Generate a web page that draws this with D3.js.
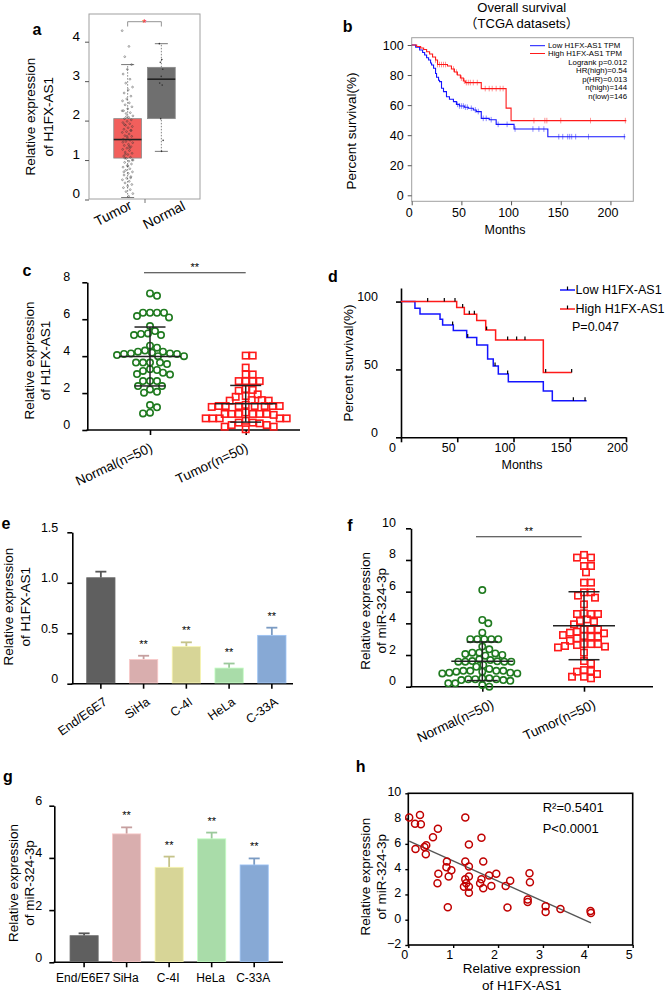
<!DOCTYPE html>
<html><head><meta charset="utf-8">
<script src="https://cdn.jsdelivr.net/npm/d3@7"></script>
<style>
body{margin:0;background:#fff;}
svg{display:block;font-family:"Liberation Sans",Arial,"Noto Sans CJK SC",sans-serif;}
</style></head><body>
<svg id="fig" width="666" height="993"></svg>
<script>
// ================= DATA =================
// Panel a (GEPIA boxplot)
const aGroups = ["Tumor", "Normal"];
const aTumorBox = [0.05, 1.05, 1.52, 2.05, 3.42];   // min, q1, median, q3, max
const aNormalBox = [1.22, 2.05, 3.05, 3.35, 3.95];
const aTumorPts = [4.28,3.88,3.62,3.42,3.3,3.18,3.05,2.95,2.85,2.78,2.7,2.62,2.55,2.5,2.45,2.4,2.35,2.3,2.25,2.2,2.18,2.12,2.08,2.05,2.02,1.98,1.95,1.92,1.88,1.85,1.82,1.78,1.75,1.72,1.7,1.66,1.62,1.6,1.56,1.53,1.5,1.47,1.44,1.4,1.37,1.34,1.3,1.27,1.24,1.2,1.17,1.14,1.1,1.07,1.04,1.0,0.97,0.94,0.9,0.86,0.82,0.78,0.74,0.7,0.66,0.62,0.58,0.54,0.5,0.46,0.42,0.38,0.34,0.3,0.25,0.2,0.15,0.08,1.9,1.75,1.6,1.45,1.3,1.15,1.0,0.85,0.7,0.55,2.1,2.25,1.35,1.05];
const aNormalPts = [3.95,3.55,3.48,3.3,3.12,2.95,2.9,2.05,1.5,1.22];
const aTicks = [0,1,2,3,4];

// Panel b (TCGA KM)
const bLowT = [0,4,8,11,13,15,17,19,20,22,24,25,27,28,30,32,35,38,42,45,48,53,57,62,65,70,78,85,103,137];
const bLowS = [100,98.5,96.7,95,93.3,91.5,90,88,86.7,84.5,81,78.5,76.5,75.6,71.2,69,65.6,63.9,62.3,60.5,59.4,58.6,57.9,56.8,55.7,51.2,50.3,47.2,44.1,39];
const bLowEnd = 215;
const bHighT = [0,5,9,12,15,18,21,24,26,36,40,43,46,49,52,54,70,95,100];
const bHighS = [100,99,98,97,95.5,94,92,90,87,86,84,82,80,78,76,75,71,58,49.7];
const bHighEnd = 216;
const bLowCens = [46,48,50,52,54,56,60,64,67,72,75,80,87,96,104,122,128,133,148,152,157,159,161,165,178,214];
const bHighCens = [24,26,28,30,32,34,42,45,50,53,55,57,59,62,66,74,78,81,85,89,92,123,134,136,150,180,215];
const bXTicks = [0,50,100,150,200];
const bYTicks = [0,20,40,60,80,100];
const bLegend = ["Low H1FX-AS1 TPM","High H1FX-AS1 TPM"];
const bStats = ["Logrank p=0.012","HR(high)=0.54","p(HR)=0.013","n(high)=144","n(low)=146"];

// Panel c
const cGroups = ["Normal(n=50)","Tumor(n=50)"];
const cNormal = [7.4,7.27,6.35,6.35,6.1,6.17,6.35,6.35,5.63,5.23,5.14,5.14,5.2,5.36,4.57,4.46,4.24,4.15,4.12,4.12,4.0,4.0,4.06,4.15,4.19,4.24,4.3,3.65,3.65,3.57,3.65,3.65,3.29,3.25,3.2,3.1,3.0,3.03,2.65,2.65,2.65,2.38,2.38,2.2,2.02,2.07,1.23,1.35,0.9,0.94];
const cTumor = [4.03,4.03,3.38,3.01,2.65,2.65,2.65,2.65,3.01,2.22,2.13,1.84,1.8,1.93,2.17,1.62,1.59,1.36,1.3,1.3,1.3,1.3,1.3,1.3,1.3,1.59,1.62,0.87,0.87,0.87,0.87,0.82,0.87,0.87,0.63,0.63,0.63,0.63,0.63,0.4,0.27,0.18,0.04,0.18,0.27,0.36,0.4,0.95,1.25,0.5];
const cTicks = [0,2,4,6,8];

// Panel d
const dLowT = [0,12.4,16.9,34.7,37,46.5,58.4,67.3,77,82,86.5,95.4,126.5,134.5];
const dLowS = [100,95.1,90.9,87,82.8,78.6,73.5,68,57.7,52.6,46.7,41,34.2,27];
const dLowEnd = 165;
const dHighT = [0,49.5,56.3,67.3,75.3,84.1,126.5];
const dHighS = [100,95.6,90.7,86,79,71.7,47.7];
const dHighEnd = 151.7;
const dLowCens = [45.9,59.3,83.6,94.8,153.2,163.6];
const dHighCens = [23.7,38.5,48,54.8,60.7,65.2,76.1,94.8,102.8,110.2,128.6,151.7];
const dXTicks = [0,50,100,150,200];
const dYTicks = [0,50,100];
const dLegend = ["Low H1FX-AS1","High H1FX-AS1"];

// Panel e & g
const cells = ["End/E6E7","SiHa","C-4I","HeLa","C-33A"];
const barColors = ["#5f5f5f","#d9aeae","#d7d597","#a9dca9","#87a9d5"];
const eMeans = [1.05,0.24,0.367,0.155,0.479];
const eErr = [0.06,0.037,0.043,0.045,0.076];
const eSig = ["","**","**","**","**"];
const eTicks = [0,0.5,1.0,1.5];
const eTickLabels = ["0","0.5","1.0","1.5"];
const gMeans = [1.02,4.92,3.64,4.73,3.73];
const gErr = [0.09,0.25,0.41,0.24,0.25];
const gSig = ["","**","**","**","**"];
const gTicks = [0,2,4,6];
const gTickLabels = ["0","2","4","6"];

// Panel f
const fNormal = [6.1,4.21,4.0,3.41,3.0,3.0,3.0,3.0,3.0,2.53,2.36,2.15,2.1,2.0,1.96,2.06,2.15,1.62,1.58,1.58,1.68,1.73,1.6,1.58,1.58,1.26,1.37,1.12,1.0,1.0,0.95,0.88,0.84,0.84,0.88,0.95,1.0,1.0,0.53,0.47,0.42,0.37,0.47,0.42,0.47,0.53,0.21,0.1,0.0,0.21];
const fTumor = [8.32,8.15,8.15,7.62,7.62,7.22,6.57,6.57,5.96,5.75,5.96,5.62,5.2,4.59,4.59,4.59,4.63,4.1,4.25,4.15,3.94,3.62,3.62,3.62,3.47,3.41,3.2,3.16,3.37,3.05,3.16,3.26,2.69,2.69,2.57,2.53,2.48,2.63,2.69,2.9,2.15,1.62,1.47,1.05,0.95,0.63,0.53,0.63,0.8,0.99];
const fTicks = [0,2,4,6,8,10];

// Panel h
const hX = [0.02,0.15,0.26,0.28,0.16,0.36,0.40,0.39,0.55,0.66,0.86,0.85,0.67,0.65,0.90,0.96,0.88,1.27,1.27,1.35,1.35,1.27,1.24,1.29,1.35,1.35,1.35,1.63,1.67,1.63,1.60,1.67,1.80,1.85,1.96,2.17,2.27,2.21,2.70,2.71,2.66,2.66,3.06,3.06,3.39,4.06,4.07];
const hY = [8.08,7.6,8.29,7.55,5.6,5.76,5.89,5.17,6.53,7.2,4.61,4.16,3.63,2.88,3.41,3.92,0.99,8.08,4.61,4.21,5.95,3.2,2.61,2.88,3.41,2.61,2.13,6.48,4.61,3.2,2.88,2.48,3.49,2.67,3.63,2.67,3.09,0.96,3.68,2.96,1.6,1.41,1.07,0.61,0.85,0.69,0.53];
const hXTicks = [0,1,2,3,4,5];
const hYTicks = [-2,0,2,4,6,8,10];
const hStats = ["R\u00b2=0.5401","P<0.0001"];

// ================= DRAWING =================
const svg = d3.select("#fig");
const BLUE = "#1414ff", RED = "#ff1a1a", GREEN = "#1f7a1f", DARKRED = "#c00000";
const intFmt = d3.format("d");

function panelLabel(t, x, y) {
  svg.append("text").attr("x", x).attr("y", y).attr("dy", "0.35em")
    .attr("text-anchor", "middle").attr("font-weight", "bold").attr("font-size", 16).text(t);
}
function vTitle(lines, xs, cy, size) {
  lines.forEach((l, i) => svg.append("text")
    .attr("transform", `translate(${xs[i]},${cy}) rotate(-90)`)
    .attr("dy", "0.35em").attr("text-anchor", "middle").attr("font-size", size).text(l));
}
function styleAxis(g, size, sw, color, textShift) {
  g.attr("font-size", size).attr("font-family", null);
  g.selectAll("line").attr("stroke", color).attr("stroke-width", sw);
  g.selectAll("path.domain").attr("stroke", color).attr("stroke-width", sw);
  g.selectAll("text").attr("fill", "#000");
  if (textShift) g.selectAll("text").attr("transform", textShift);
}
function kmPath(x, y, T, S, end) {
  const pts = T.map((t, i) => [t, S[i]]);
  pts.push([end, S[S.length - 1]]);
  return d3.line().x(d => x(d[0])).y(d => y(d[1])).curve(d3.curveStepAfter)(pts);
}
function survAt(T, S, t) {
  let s = S[0];
  for (let i = 0; i < T.length; i++) if (T[i] <= t) s = S[i];
  return s;
}
function swarm(values, y, cx, minDist) {
  const order = values.map((v, i) => i).sort((a, b) => values[b] - values[a]);
  const placed = [], xs = new Array(values.length);
  for (const i of order) {
    const py = y(values[i]);
    let k = 0, x;
    while (true) {
      const off = k === 0 ? 0 : (k % 2 ? 1 : -1) * Math.ceil(k / 2);
      x = cx + off;
      if (placed.every(p => (p[0] - x) ** 2 + (p[1] - py) ** 2 >= minDist * minDist)) break;
      k++;
    }
    placed.push([x, py]); xs[i] = x;
  }
  return xs;
}

// ---------- Panel a ----------
(function () {
  const x = d3.scaleBand().domain(aGroups).range([89, 200]).paddingInner(0.176).paddingOuter(0.735);
  const y = d3.scaleLinear().domain([0, 4]).range([199.5, 41.7]);
  svg.append("rect").attr("x", 89).attr("y", 14).attr("width", 111).attr("height", 185)
    .attr("fill", "none").attr("stroke", "#a0a0a0").attr("stroke-width", 1);
  const ga = svg.append("g").attr("transform", "translate(89,0)")
    .call(d3.axisLeft(y).tickValues(aTicks).tickFormat(intFmt).tickSize(4).tickSizeOuter(0).tickPadding(5));
  ga.select(".domain").remove();
  styleAxis(ga, 13.5, 1, "#555", "translate(0,-6)");
  svg.append("line").attr("x1", 145).attr("x2", 145).attr("y1", 199).attr("y2", 203).attr("stroke", "#777");
  const boxes = [aTumorBox, aNormalBox], fills = ["#f25f5c", "#6f6f6f"];
  aGroups.forEach((gname, gi) => {
    const b = boxes[gi], cx = x(gname) + x.bandwidth() / 2, w = x.bandwidth();
    [[b[0], b[1]], [b[3], b[4]]].forEach(seg => {
      svg.append("line").attr("x1", cx).attr("x2", cx).attr("y1", y(seg[0])).attr("y2", y(seg[1]))
        .attr("stroke", "#666").attr("stroke-width", 0.8).attr("stroke-dasharray", "1.5,1.5");
    });
    [b[0], b[4]].forEach(v => svg.append("line").attr("x1", cx - 6.5).attr("x2", cx + 6.5)
      .attr("y1", y(v)).attr("y2", y(v)).attr("stroke", "#555").attr("stroke-width", 0.8));
    svg.append("rect").attr("x", cx - w / 2).attr("y", y(b[3])).attr("width", w)
      .attr("height", y(b[1]) - y(b[3])).attr("fill", fills[gi]).attr("stroke", "#8a8a8a").attr("stroke-width", 0.8);
    svg.append("line").attr("x1", cx - w / 2).attr("x2", cx + w / 2).attr("y1", y(b[2])).attr("y2", y(b[2]))
      .attr("stroke", "#222").attr("stroke-width", 1.6);
  });
  const tcx = x("Tumor") + x.bandwidth() / 2, ncx = x("Normal") + x.bandwidth() / 2;
  aTumorPts.forEach((v, i) => {
    const j = ((i * 0.61803398875) % 1 - 0.5) * 11;
    svg.append("circle").attr("cx", tcx + j).attr("cy", y(v)).attr("r", 0.9)
      .attr("fill", "none").attr("stroke", "#333").attr("stroke-width", 0.5).attr("opacity", 0.85);
  });
  aNormalPts.forEach((v, i) => {
    const j = ((i * 0.61803398875) % 1 - 0.5) * 4;
    svg.append("circle").attr("cx", ncx + j).attr("cy", y(v)).attr("r", 0.8).attr("fill", "#333");
  });
  svg.append("path").attr("d", `M${tcx},26.5V21.7H${ncx}V26.5`).attr("fill", "none")
    .attr("stroke", "#888").attr("stroke-width", 0.9);
  svg.append("text").attr("x", (tcx + ncx) / 2).attr("y", 27).attr("text-anchor", "middle")
    .attr("font-size", 11).attr("fill", "#ff3030").text("*");
  const lx = d3.scalePoint().domain(aGroups).range([113, 164]);
  aGroups.forEach((gname, gi) => svg.append("text")
    .attr("transform", `translate(${lx(gname)},${213 + gi * 2}) rotate(-27)`)
    .attr("dy", "0.35em").attr("text-anchor", "middle").attr("font-size", 14).text(gname));
  vTitle(["Relative expression", "of H1FX-AS1"], [30.7, 48.3], 116.7, 13.5);
  panelLabel("a", 37, 29);
})();

// ---------- Panel b ----------
(function () {
  const x = d3.scaleLinear().domain([0, 223]).range([411.7, 633.3]);
  const y = d3.scaleLinear().domain([0, 100]).range([195.3, 45]);
  svg.append("rect").attr("x", 411.7).attr("y", 37.7).attr("width", 221.6).attr("height", 163.6)
    .attr("fill", "none").attr("stroke", "#a0a0a0").attr("stroke-width", 1);
  const gy = svg.append("g").attr("transform", "translate(411.7,0)")
    .call(d3.axisLeft(y).tickValues(bYTicks).tickFormat(intFmt).tickSize(4).tickSizeOuter(0).tickPadding(4));
  gy.select(".domain").remove();
  styleAxis(gy, 12.5, 1, "#555");
  const gx = svg.append("g").attr("transform", "translate(0,201.3)")
    .call(d3.axisBottom(x).tickValues(bXTicks).tickFormat(intFmt).tickSize(4).tickSizeOuter(0).tickPadding(3));
  gx.select(".domain").remove();
  styleAxis(gx, 12.5, 1, "#555", "translate(-3,0)");
  [[bLowT, bLowS, bLowEnd, bLowCens, BLUE], [bHighT, bHighS, bHighEnd, bHighCens, RED]].forEach(([T, S, E, C, col]) => {
    svg.append("path").attr("d", kmPath(x, y, T, S, E)).attr("fill", "none").attr("stroke", col).attr("stroke-width", 1.1);
    C.forEach(t => {
      const yy = y(survAt(T, S, t));
      svg.append("line").attr("x1", x(t)).attr("x2", x(t)).attr("y1", yy - 2.8).attr("y2", yy + 2.8)
        .attr("stroke", col).attr("stroke-width", 0.8).attr("opacity", 0.6);
    });
  });
  [BLUE, RED].forEach((col, i) => {
    const yy = 45.7 + i * 7.8;
    svg.append("line").attr("x1", 530).attr("x2", 545).attr("y1", yy).attr("y2", yy).attr("stroke", col).attr("stroke-width", 1);
    svg.append("text").attr("x", 548).attr("y", yy).attr("dy", "0.33em").attr("font-size", 7.8).text(bLegend[i]);
  });
  bStats.forEach((s, i) => svg.append("text").attr("x", 627).attr("y", 62 + i * 8.6).attr("dy", "0.33em")
    .attr("text-anchor", "end").attr("font-size", 7.8).text(s));
  svg.append("text").attr("x", 521.7).attr("y", 7).attr("dy", "0.35em").attr("text-anchor", "middle").attr("font-size", 13).text("Overall survival");
  svg.append("text").attr("x", 521.7).attr("y", 23.5).attr("dy", "0.35em").attr("text-anchor", "middle").attr("font-size", 13).text("\uff08TCGA datasets\uff09");
  svg.append("text").attr("x", 505).attr("y", 230).attr("dy", "0.35em").attr("text-anchor", "middle").attr("font-size", 12.5).text("Months");
  vTitle(["Percent survival(%)"], [351.7], 131, 13.5);
  panelLabel("b", 347.7, 26);
})();

// ---------- dot plot helper (c, f) ----------
function dotPlot(opt) {
  const y = d3.scaleLinear().domain(opt.ydom).range(opt.yrange);
  const x = d3.scalePoint().domain(opt.groups).range(opt.xcenters);
  const gy = svg.append("g").attr("transform", `translate(${opt.axisX},0)`)
    .call(d3.axisLeft(y).tickValues(opt.ticks).tickFormat(intFmt).tickSize(5).tickSizeOuter(0).tickPadding(opt.pad));
  styleAxis(gy, opt.fs, 1.6, "#000", `translate(0,${opt.labDy})`);
  svg.append("line").attr("x1", opt.axisX - 0.8).attr("x2", opt.xEnd).attr("y1", opt.yrange[0]).attr("y2", opt.yrange[0])
    .attr("stroke", "#000").attr("stroke-width", 1.6);
  const gx = svg.append("g").attr("transform", `translate(0,${opt.yrange[0]})`)
    .call(d3.axisBottom(x).tickSize(5).tickSizeOuter(0));
  gx.select(".domain").remove();
  styleAxis(gx, opt.fs + 1, 1.6, "#000");
  gx.selectAll("text").attr("y", 0).attr("dy", 0).attr("text-anchor", "end")
    .attr("transform", `translate(${opt.lblDx},${opt.lblDy}) rotate(${opt.rot})`);
  const sets = [opt.a, opt.b];
  sets.forEach((vals, gi) => {
    const cx = x(opt.groups[gi]);
    const xs = swarm(vals, y, cx, opt.minDist);
    vals.forEach((v, i) => {
      if (gi === 0) svg.append("circle").attr("cx", xs[i]).attr("cy", y(v)).attr("r", 3.2)
        .attr("fill", "none").attr("stroke", GREEN).attr("stroke-width", 1.6);
      else svg.append("rect").attr("x", xs[i] - 3.2).attr("y", y(v) - 3.2).attr("width", 6.4).attr("height", 6.4)
        .attr("fill", "none").attr("stroke", RED).attr("stroke-width", 1.6);
    });
    const m = d3.mean(vals), sd = d3.deviation(vals);
    const g = svg.append("g").attr("stroke", "#222").attr("stroke-width", 1.5);
    g.append("line").attr("x1", cx - 31).attr("x2", cx + 31).attr("y1", y(m)).attr("y2", y(m));
    g.append("line").attr("x1", cx).attr("x2", cx).attr("y1", y(m - sd)).attr("y2", y(m + sd));
    [m - sd, m + sd].forEach(v => g.append("line").attr("x1", cx - 15.5).attr("x2", cx + 15.5).attr("y1", y(v)).attr("y2", y(v)));
  });
  svg.append("line").attr("x1", opt.sig[0]).attr("x2", opt.sig[1]).attr("y1", opt.sig[2]).attr("y2", opt.sig[2])
    .attr("stroke", "#333").attr("stroke-width", 1.1);
  svg.append("text").attr("x", (opt.sig[0] + opt.sig[1]) / 2).attr("y", opt.sig[2] - 1.5)
    .attr("text-anchor", "middle").attr("font-size", 11).text("**");
}

// ---------- Panel c ----------
dotPlot({
  groups: cGroups, a: cNormal, b: cTumor, ydom: [0, 8], yrange: [430, 282.3], xcenters: [150, 245.7],
  axisX: 87.3, xEnd: 300, ticks: cTicks, pad: 12, labDy: -6, fs: 12.5, minDist: 6.6,
  lblDx: 3, lblDy: 21, rot: -25, sig: [144, 245.7, 272.7]
});
vTitle(["Relative expression", "of H1FX-AS1"], [29.3, 45], 360.5, 13.5);
panelLabel("c", 27, 270);

// ---------- Panel f ----------
dotPlot({
  groups: cGroups, a: fNormal, b: fTumor, ydom: [0, 10], yrange: [686.7, 528.3], xcenters: [482.3, 584],
  axisX: 411, xEnd: 653, ticks: fTicks, pad: 10, labDy: -6, fs: 12.5, minDist: 6.6,
  lblDx: 12, lblDy: 21, rot: -25, sig: [476, 581.7, 536.7]
});
vTitle(["Relative expression", "of miR-324-3p"], [365, 381.7], 610.8, 13.5);
panelLabel("f", 350, 525);

// ---------- Panel d ----------
(function () {
  const x = d3.scaleLinear().domain([0, 200]).range([401, 626]);
  const y = d3.scaleLinear().domain([0, 110]).range([437.3, 288]);
  const gy = svg.append("g").attr("transform", "translate(401,0)")
    .call(d3.axisLeft(y).tickValues(dYTicks).tickFormat(intFmt).tickSize(5).tickSizeOuter(0).tickPadding(18));
  styleAxis(gy, 12.5, 1.6, "#000", "translate(0,-5)");
  const gx = svg.append("g").attr("transform", "translate(0,437.3)")
    .call(d3.axisBottom(x).tickValues(dXTicks).tickFormat(intFmt).tickSize(5).tickSizeOuter(0).tickPadding(1));
  styleAxis(gx, 12.5, 1.6, "#000", "translate(-9,0)");
  [[dLowT, dLowS, dLowEnd, dLowCens, BLUE], [dHighT, dHighS, dHighEnd, dHighCens, RED]].forEach(([T, S, E, C, col]) => {
    svg.append("path").attr("d", kmPath(x, y, T, S, E)).attr("fill", "none").attr("stroke", col).attr("stroke-width", 1.5);
    C.forEach(t => {
      const yy = y(survAt(T, S, t));
      svg.append("line").attr("x1", x(t)).attr("x2", x(t)).attr("y1", yy - 3.5).attr("y2", yy)
        .attr("stroke", "#000").attr("stroke-width", 1.2);
    });
  });
  [BLUE, RED].forEach((col, i) => {
    const yy = 290 + i * 19;
    svg.append("line").attr("x1", 560).attr("x2", 575).attr("y1", yy).attr("y2", yy).attr("stroke", col).attr("stroke-width", 1.5);
    svg.append("line").attr("x1", 567.5).attr("x2", 567.5).attr("y1", yy - 3.5).attr("y2", yy).attr("stroke", "#000").attr("stroke-width", 1.2);
    svg.append("text").attr("x", 575.5).attr("y", yy).attr("dy", "0.35em").attr("font-size", 12.5).text(dLegend[i]);
  });
  svg.append("text").attr("x", 572).attr("y", 327).attr("dy", "0.35em").attr("font-size", 12.5).text("P=0.047");
  svg.append("text").attr("x", 522).attr("y", 465).attr("dy", "0.35em").attr("text-anchor", "middle").attr("font-size", 12.5).text("Months");
  vTitle(["Percent survival(%)"], [348], 363, 13.5);
  panelLabel("d", 333, 276.7);
})();

// ---------- bar helper (e, g) ----------
function barPlot(opt) {
  const x = d3.scaleBand().domain(cells).range(opt.xrange).padding(opt.pad).paddingInner(0.338);
  const y = d3.scaleLinear().domain(opt.ydom).range(opt.yrange);
  const gy = svg.append("g").attr("transform", `translate(${opt.xrange[0]},0)`)
    .call(d3.axisLeft(y).tickValues(opt.ticks).tickSize(5).tickSizeOuter(0).tickPadding(opt.tpad)
      .tickFormat((d, i) => opt.tickLabels[i]));
  styleAxis(gy, 12.5, 1.6, "#000", "translate(0,-5)");
  const gx = svg.append("g").attr("transform", `translate(0,${opt.yrange[0]})`)
    .call(d3.axisBottom(x).tickSize(5).tickSizeOuter(0));
  gx.select(".domain").attr("d", `M${opt.xrange[0] - 0.8},0H${opt.xEnd}`);
  styleAxis(gx, opt.lfs, 1.6, "#000");
  if (opt.rot) gx.selectAll("text").attr("y", 0).attr("dy", 0).attr("text-anchor", "end")
    .attr("transform", `translate(${opt.lblDx},${opt.lblDy}) rotate(${opt.rot})`);
  else gx.selectAll("text").attr("y", 0).attr("dy", "0.35em").attr("transform", `translate(${opt.lblDx},${opt.lblDy})`);
  cells.forEach((c, i) => {
    const bx = x(c), w = x.bandwidth(), cx = bx + w / 2;
    const col = d3.color(barColors[i]);
    const top = opt.means[i] + opt.err[i];
    svg.append("line").attr("x1", cx).attr("x2", cx).attr("y1", y(opt.means[i])).attr("y2", y(top))
      .attr("stroke", col.darker(0.25)).attr("stroke-width", 1.8);
    svg.append("line").attr("x1", cx - 5.5).attr("x2", cx + 5.5).attr("y1", y(top)).attr("y2", y(top))
      .attr("stroke", col.darker(0.25)).attr("stroke-width", 1.8);
    svg.append("rect").attr("x", bx).attr("y", y(opt.means[i])).attr("width", w)
      .attr("height", y(0) - y(opt.means[i]) - 0.8).attr("fill", barColors[i])
      .attr("stroke", col.brighter(0.4)).attr("stroke-width", 0.8);
    if (opt.sig[i]) svg.append("text").attr("x", cx).attr("y", y(top) - 8)
      .attr("text-anchor", "middle").attr("font-size", 11).text(opt.sig[i]);
  });
}

// ---------- Panel e ----------
barPlot({
  means: eMeans, err: eErr, sig: eSig, ydom: [0, 1.5], yrange: [683.7, 532.3], xrange: [72.3, 300.4],
  pad: 0.337, xEnd: 293, ticks: eTicks, tickLabels: eTickLabels, tpad: 9,
  lfs: 12.5, rot: -35, lblDx: 7, lblDy: 20
});
vTitle(["Relative expression", "of H1FX-AS1"], [8.3, 25], 606.7, 13.5);
panelLabel("e", 6, 523);

// ---------- Panel g ----------
barPlot({
  means: gMeans, err: gErr, sig: gSig, ydom: [0, 6], yrange: [962.3, 805.7], xrange: [54.3, 284],
  pad: 0.37, xEnd: 283, ticks: gTicks, tickLabels: gTickLabels, tpad: 7, lfs: 12, rot: 0, lblDx: -1, lblDy: 15.5
});
vTitle(["Relative expression", "of miR-324-3p"], [13.3, 29.3], 883, 13.5);
panelLabel("g", 8, 776.7);

// ---------- Panel h ----------
(function () {
  const x = d3.scaleLinear().domain([0, 5]).range([408.3, 632.7]);
  const y = d3.scaleLinear().domain([-2, 10]).range([945, 793.3]);
  svg.append("rect").attr("x", 408.3).attr("y", 793.3).attr("width", 224.4).attr("height", 151.7)
    .attr("fill", "none").attr("stroke", "#000").attr("stroke-width", 1.6);
  const gy = svg.append("g").attr("transform", "translate(408.3,0)")
    .call(d3.axisLeft(y).tickValues(hYTicks).tickFormat(intFmt).tickSize(3).tickSizeOuter(0).tickPadding(4));
  gy.select(".domain").remove();
  styleAxis(gy, 12.5, 1.4, "#000", "translate(0,-1.5)");
  const gx = svg.append("g").attr("transform", "translate(0,945)")
    .call(d3.axisBottom(x).tickValues(hXTicks).tickFormat(intFmt).tickSize(3).tickSizeOuter(0).tickPadding(2));
  gx.select(".domain").remove();
  styleAxis(gx, 12.5, 1.4, "#000", "translate(-4,0)");
  const mx = d3.mean(hX), my = d3.mean(hY);
  const slope = d3.sum(hX, (v, i) => (v - mx) * (hY[i] - my)) / d3.sum(hX, v => (v - mx) ** 2);
  const icpt = my - slope * mx;
  const x0 = d3.min(hX), x1 = d3.max(hX);
  svg.append("line").attr("x1", x(x0)).attr("x2", x(x1)).attr("y1", y(icpt + slope * x0)).attr("y2", y(icpt + slope * x1))
    .attr("stroke", "#555").attr("stroke-width", 1.4);
  hX.forEach((v, i) => svg.append("circle").attr("cx", x(v)).attr("cy", y(hY[i])).attr("r", 3.5)
    .attr("fill", "none").attr("stroke", DARKRED).attr("stroke-width", 1.5));
  hStats.forEach((s, i) => svg.append("text").attr("x", 542.7).attr("y", 807.3 + i * 21).attr("dy", "0.35em")
    .attr("font-size", 13).text(s));
  ["Relative expression", "of H1FX-AS1"].forEach((s, i) => svg.append("text").attr("x", 521.7).attr("y", 968.3 + i * 16.7)
    .attr("dy", "0.35em").attr("text-anchor", "middle").attr("font-size", 13.5).text(s));
  vTitle(["Relative expression", "of miR-324-3p"], [365, 381.7], 876.7, 13.5);
  panelLabel("h", 360.7, 766.7);
})();
</script></body></html>
